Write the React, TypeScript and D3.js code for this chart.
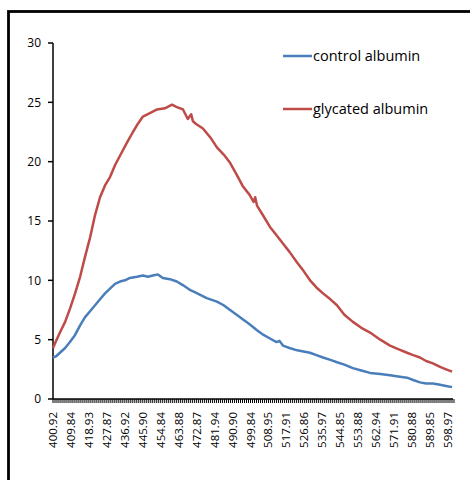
import React from "react";
import * as d3 from "d3";

const tickLabels = ["400.92","409.84","418.93","427.87","436.92","445.90","454.84","463.88","472.87","481.94","490.90","499.84","508.95","517.91","526.86","535.97","544.85","553.88","562.94","571.91","580.88","589.85","598.97"];

const wavelengthsG = [400.92,402.5,404.4,407,409.4,412,414.5,417,419.5,422,424.5,427,429.5,432,434.5,438,441,443.5,446,449.5,453.1,457,460.6,463,466.1,468.5,470.2,471.1,472.5,476.1,480,483.1,486.5,489.7,493,496.2,499.5,501.5,502.3,503.2,506.5,509.7,513,516.2,519.5,523.3,526.5,529.8,533,536.3,540,543.3,547,551.3,555.5,559.9,565,569.9,574,578.4,581.5,584.9,588,591.4,595,598,601];
const glycated = [4.3,4.9,5.6,6.5,7.6,8.9,10.3,12.0,13.6,15.5,17.0,18.0,18.7,19.7,20.5,21.6,22.5,23.2,23.8,24.1,24.4,24.5,24.8,24.6,24.4,23.6,24.0,23.4,23.2,22.8,22.0,21.2,20.6,19.9,18.9,17.9,17.2,16.6,17.0,16.3,15.4,14.5,13.8,13.1,12.4,11.5,10.8,10.0,9.4,8.9,8.4,7.9,7.1,6.5,6.0,5.6,5.0,4.5,4.2,3.9,3.7,3.5,3.2,3.0,2.7,2.5,2.3];

const wavelengthsC = [400.92,402.5,404.4,407,409.4,412,414.5,417,419.5,422,424.5,427,429.5,432,434.5,437,439.5,443,446,448.5,451,453.5,456,459.5,463,466,469.5,472,474.5,478,483.1,486.5,489.7,493,496.2,499.5,503.2,506.5,509.7,513,514.5,516.2,519.5,523.3,526.5,529.8,533,536.3,540,543.3,547,551.3,555.5,559.9,565,569.9,574,578.4,581.5,584.9,588,591.4,595,598,601];
const control = [3.5,3.6,3.9,4.3,4.8,5.4,6.2,6.9,7.4,7.9,8.4,8.9,9.3,9.7,9.9,10.0,10.2,10.3,10.4,10.3,10.4,10.5,10.2,10.1,9.9,9.6,9.2,9.0,8.8,8.5,8.2,7.9,7.5,7.1,6.7,6.3,5.8,5.4,5.1,4.8,4.9,4.5,4.3,4.1,4.0,3.9,3.7,3.5,3.3,3.1,2.9,2.6,2.4,2.2,2.1,2.0,1.9,1.8,1.6,1.4,1.3,1.3,1.2,1.1,1.0];

const yTicks = [0, 5, 10, 15, 20, 25, 30];

const seriesNames = ["control albumin", "glycated albumin"];
const colors = ["#4A7EBB", "#BE4B48"];

export default function App() {
  const W = 470, H = 480;
  const x = d3.scaleLinear().domain([400.92, 598.97]).range([53, 448]);
  const y = d3.scaleLinear().domain([0, 30]).range([399, 43]);
  const line = d3.line<[number, number]>().x(d => x(d[0])).y(d => y(d[1]));
  const gPts = wavelengthsG.map((w, i) => [w, glycated[i]] as [number, number]);
  const cPts = wavelengthsC.map((w, i) => [w, control[i]] as [number, number]);
  const step = (598.97 - 400.92) / 198;
  const minor = d3.range(0, 202).map(i => 400.92 + i * step);
  const labelW = tickLabels.map((_, i) => 400.92 + i * 9 * step);
  const font = "Open Sans, Noto Sans, sans-serif";
  return (
    <svg width={W} height={H} style={{ position: "absolute", left: 0, top: 0, background: "#fff" }}>
      <rect x={8.5} y={11.5} width={480} height={500} fill="none" stroke="#000" strokeWidth={2.8} />
      {/* y axis */}
      <line x1={53} x2={53} y1={43} y2={399} stroke="#000" strokeWidth={1.5} />
      {yTicks.map(t => (
        <g key={t}>
          <line x1={48} x2={53} y1={y(t)} y2={y(t)} stroke="#000" strokeWidth={1.5} />
          <text x={41} y={y(t)} dy="0.35em" textAnchor="end" fontFamily={font} fontSize={12} fill="#000">{t}</text>
        </g>
      ))}
      {/* x axis */}
      <line x1={53} x2={453} y1={399} y2={399} stroke="#000" strokeWidth={1.5} />
      {minor.map((w, i) => (
        <line key={i} x1={x(w)} x2={x(w)} y1={399} y2={403} stroke="#000" strokeWidth={1} />
      ))}
      {tickLabels.map((l, i) => (
        <text key={l} transform={`translate(${x(labelW[i])},412) rotate(-90)`} dy="0.35em" textAnchor="end"
          fontFamily={font} fontSize={11.5} fill="#000">{l}</text>
      ))}
      <path d={line(cPts) || ""} fill="none" stroke={colors[0]} strokeWidth={2.5} strokeLinejoin="round" />
      <path d={line(gPts) || ""} fill="none" stroke={colors[1]} strokeWidth={2.5} strokeLinejoin="round" />
      {/* legend */}
      {seriesNames.map((n, i) => (
        <g key={n} transform={`translate(0,${56 + i * 53})`}>
          <line x1={283} x2={312} y1={0} y2={0} stroke={colors[i]} strokeWidth={2.5} />
          <text x={313} y={0} dy="0.33em" fontFamily={font} fontSize={14.5} fill="#000">{n}</text>
        </g>
      ))}
    </svg>
  );
}
